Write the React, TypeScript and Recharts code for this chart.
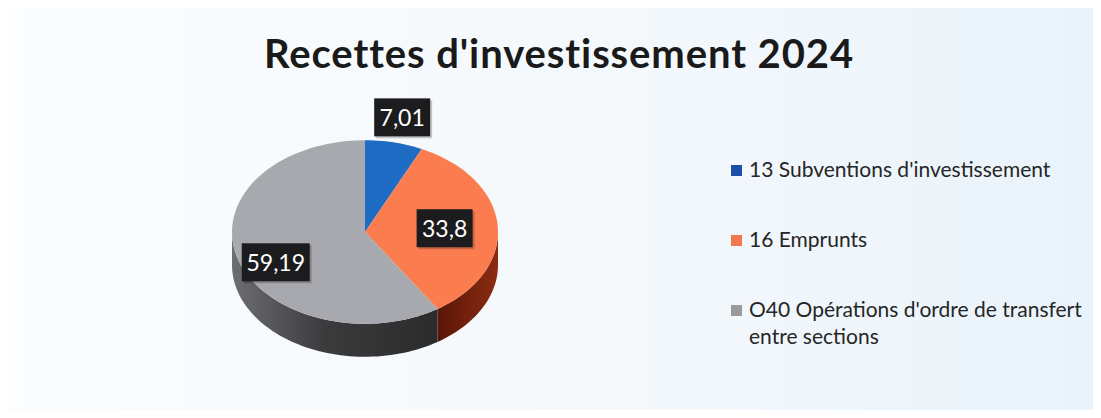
import { PieChart, Pie, Legend } from "recharts";

const categories = [
  "13 Subventions d'investissement",
  "16 Emprunts",
  "O40 Opérations d'ordre de transfert entre sections",
];
const values = [7.01, 33.8, 59.19];
const valueLabels = ["7,01", "33,8", "59,19"];

const topColors = ["#1f6cc4", "#fb7d4f", "#a8a9af"];
const sideColors = ["#12407a", "url(#sideOrange)", "url(#sideGray)"];
const legendColors = ["#1d4fa8", "#f4784e", "#9b9b9b"];

const chartData = categories.map((name, i) => ({
  name,
  value: values[i],
  label: valueLabels[i],
  top: topColors[i],
  side: sideColors[i],
}));

const KY = 0.69; // vertical squash of the pie
const DEPTH = 33;
const labelRadius = [1.28, 0.6, 0.7];
const labelDy = [0, 0, 12];

const RAD = Math.PI / 180;

function ellipsePoint(cx: number, cy: number, r: number, deg: number) {
  return [cx + r * Math.cos(deg * RAD), cy - r * KY * Math.sin(deg * RAD)];
}

function arcPoints(cx: number, cy: number, r: number, a: number, b: number, dy = 0) {
  const steps = Math.max(2, Math.ceil(Math.abs(b - a) / 2));
  const pts: string[] = [];
  for (let i = 0; i <= steps; i++) {
    const deg = a + ((b - a) * i) / steps;
    const [x, y] = ellipsePoint(cx, cy, r, deg);
    pts.push(`${x.toFixed(2)},${(y + dy).toFixed(2)}`);
  }
  return pts;
}

const TopShape = (props: any) => {
  const { cx, cy, outerRadius, startAngle, endAngle, payload } = props;
  const pts = arcPoints(cx, cy, outerRadius, startAngle, endAngle);
  const fill = payload?.top ?? props.fill;
  return <path d={`M${cx},${cy} L${pts.join(" L")} Z`} fill={fill} stroke="none" />;
};

const SideShape = (props: any) => {
  const { cx, cy, outerRadius, startAngle, endAngle, payload } = props;
  const lo = Math.min(startAngle, endAngle);
  const hi = Math.max(startAngle, endAngle);
  // front half of the ellipse: angles where sin < 0
  const ranges = [
    [-180, 0],
    [180, 360],
    [-540, -360],
  ];
  const paths: JSX.Element[] = [];
  ranges.forEach(([r0, r1], k) => {
    const a = Math.max(lo, r0);
    const b = Math.min(hi, r1);
    if (b <= a) return;
    const upper = arcPoints(cx, cy, outerRadius, a, b);
    const lower = arcPoints(cx, cy, outerRadius, b, a, DEPTH);
    paths.push(
      <path key={k} d={`M${upper.join(" L")} L${lower.join(" L")} Z`} fill={payload?.side} stroke="none" />
    );
  });
  return (
    <g>
      <defs>
        <linearGradient id="sideGray" x1="0" y1="0" x2="1" y2="0">
          <stop offset="0%" stopColor="#6d6e72" />
          <stop offset="45%" stopColor="#3b3b3d" />
          <stop offset="100%" stopColor="#2b2b2c" />
        </linearGradient>
        <linearGradient id="sideOrange" x1="0" y1="0" x2="1" y2="0">
          <stop offset="0%" stopColor="#5a1608" />
          <stop offset="100%" stopColor="#8c2c12" />
        </linearGradient>
      </defs>
      {paths}
    </g>
  );
};

const renderLabel = (props: any) => {
  const { cx, cy, midAngle, outerRadius, index } = props;
  const [x, y0] = ellipsePoint(cx, cy, outerRadius * labelRadius[index], midAngle);
  const y = y0 + labelDy[index];
  const text = valueLabels[index];
  const w = text.length * 12 + 8;
  const h = 38;
  return (
    <g>
      <rect x={x - w / 2 + 2} y={y - h / 2 + 2} width={w} height={h} fill="#00000033" />
      <rect x={x - w / 2} y={y - h / 2} width={w} height={h} fill="#1c1c1e" />
      <text
        x={x}
        y={y}
        textAnchor="middle"
        dominantBaseline="central"
        fill="#ffffff"
        fontSize={23}
        fontFamily="Lato, sans-serif"
      >
        {text}
      </text>
    </g>
  );
};

const renderLegend = () => (
  <div style={{ fontFamily: "Lato, sans-serif", fontSize: 21, color: "#262626" }}>
    {categories.map((name, i) => (
      <div
        key={name}
        style={{ display: "flex", alignItems: "flex-start", width: 360, marginBottom: i < 2 ? 43 : 0, lineHeight: "27px" }}
      >
        <span
          style={{
            display: "inline-block",
            width: 11,
            height: 11,
            background: legendColors[i],
            marginTop: 10,
            marginRight: 7,
            flexShrink: 0,
          }}
        />
        <span>{name}</span>
      </div>
    ))}
  </div>
);

export default function App() {
  return (
    <div
      style={{
        margin: -8,
        width: 1101,
        height: 418,
        position: "relative",
        overflow: "hidden",
        background: "linear-gradient(90deg, #fbfdfe 0%, #f3f8fc 60%, #e9f3fb 100%)",
      }}
    >
      <div
        style={{
          position: "absolute",
          top: 29,
          left: 0,
          width: 1118,
          textAlign: "center",
          fontFamily: "Lato, sans-serif",
          fontWeight: 700,
          fontSize: 40,
          letterSpacing: 0.9,
          color: "#1a1a1a",
        }}
      >
        Recettes d'investissement 2024
      </div>
      <PieChart
        width={1101}
        height={418}
        margin={{ top: 0, right: 0, bottom: 0, left: 0 }}
        style={{ position: "absolute", top: 0, left: 0 }}
      >
        <Pie
          data={chartData}
          dataKey="value"
          nameKey="name"
          cx={365}
          cy={232}
          outerRadius={133}
          startAngle={90}
          endAngle={-270}
          stroke="none"
          shape={SideShape}
          activeShape={SideShape}
          inactiveShape={SideShape}
          isAnimationActive={false}
          legendType="none"
        />
        <Pie
          data={chartData}
          dataKey="value"
          nameKey="name"
          cx={365}
          cy={232}
          outerRadius={133}
          startAngle={90}
          endAngle={-270}
          stroke="none"
          shape={TopShape}
          activeShape={TopShape}
          inactiveShape={TopShape}
          label={renderLabel}
          labelLine={false}
          isAnimationActive={false}
        />
        <Legend
          layout="vertical"
          content={renderLegend}
          wrapperStyle={{ left: 731, top: 155, width: 370 }}
        />
      </PieChart>
    </div>
  );
}
